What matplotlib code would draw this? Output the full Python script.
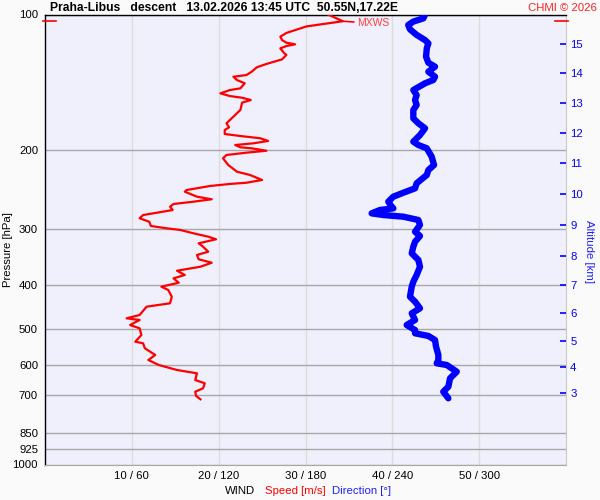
import numpy as np
import matplotlib
matplotlib.use('Agg')
import matplotlib.pyplot as plt
import matplotlib.ticker as ticker

plt.rcParams['font.family'] = ['Liberation Sans', 'DejaVu Sans']

# wind speed [m/s] vs pressure [hPa]
spd_p = [100.0, 103.5, 106.3, 109.9, 112.0, 114.0, 115.5, 116.5, 117.5, 118.9,
         121.6, 123.0, 125.8, 128.8, 131.0, 134.0, 136.3, 137.5, 139.8, 142.2,
         145.9, 147.2, 149.7, 151.8, 153.1, 154.9, 157.0, 163.0, 170.1, 174.5,
         178.1, 180.6, 184.3, 186.2, 188.4, 191.0, 193.3, 195.0, 197.3, 198.3,
         200.8, 202.8, 205.2, 208.7, 216.0, 223.5, 227.3, 233.2, 236.5, 238.0,
         240.5, 245.5, 247.6, 254.0, 257.4, 260.6, 263.7, 267.4, 271.9, 275.7,
         279.0, 283.7, 288.7, 295.1, 298.6, 301.2, 306.4, 311.7, 315.9, 322.4,
         328.1, 336.6, 342.3, 349.9, 356.1, 363.5, 371.0, 379.2, 385.7, 394.5,
         402.6, 409.5, 423.8, 438.3, 446.0, 465.3, 473.3, 477.4, 489.8, 498.1,
         515.5, 533.5, 537.9, 551.8, 571.0, 585.8, 601.0, 616.6, 627.1, 649.0,
         660.0, 677.1, 689.0, 704.3, 716.3]
spd = [32.6, 34.3, 30.1, 27.8, 27.1, 27.3, 27.8, 28.8, 27.8, 27.1,
       27.5, 27.8, 27.3, 25.5, 24.4, 23.8, 23.2, 21.7, 22.1, 23.0,
       22.5, 21.3, 20.2, 21.3, 22.7, 23.7, 22.7, 22.5, 21.5, 20.9,
       21.2, 20.7, 20.7, 22.5, 24.8, 25.7, 24.0, 21.9, 22.5, 23.8,
       25.5, 23.2, 20.9, 20.5, 21.1, 22.1, 23.6, 25.0, 23.2, 21.3,
       19.0, 16.3, 16.1, 17.5, 19.2, 17.1, 14.8, 14.4, 14.7, 12.9,
       11.3, 10.9, 12.0, 12.2, 14.0, 15.6, 17.1, 18.8, 19.7, 17.7,
       18.2, 18.8, 17.5, 17.7, 19.2, 17.9, 15.2, 16.1, 14.8, 15.4,
       13.4, 14.2, 14.6, 14.4, 11.7, 10.9, 9.4, 10.9, 9.8, 10.9,
       11.1, 10.4, 11.3, 11.5, 12.7, 11.9, 13.1, 15.2, 17.5, 17.3,
       18.4, 18.2, 17.3, 17.4, 17.9]

# wind direction [deg] vs pressure [hPa]
dir_p = [100.0, 102.0, 103.7, 105.5, 107.9, 111.0, 114.0, 115.9, 118.9, 124.1,
         128.0, 130.6, 134.0, 137.5, 139.8, 142.2, 147.2, 151.0, 154.9, 158.9,
         163.0, 170.1, 174.5, 179.0, 185.3, 191.7, 195.0, 198.3, 207.0, 216.0,
         221.6, 227.3, 237.2, 243.4, 248.9, 254.0, 260.6, 267.4, 269.6, 271.9,
         276.6, 279.0, 281.4, 286.2, 293.6, 303.9, 310.6, 319.8, 328.1, 339.4,
         351.2, 363.5, 379.2, 392.5, 402.6, 423.8, 434.7, 449.7, 461.3, 477.4,
         489.8, 502.5, 511.0, 518.1, 528.9, 547.3, 571.0, 585.8, 595.8, 601.0,
         622.0, 643.3, 671.7, 689.0, 712.7]
wdir = [262.6, 261.4, 254.5, 251.0, 252.2, 256.8, 262.6, 264.9, 263.8, 263.3,
        264.9, 269.5, 264.9, 269.5, 268.3, 262.6, 254.5, 256.8, 255.7, 256.8,
        254.5, 254.5, 258.0, 262.6, 259.1, 254.5, 258.0, 263.8, 267.2, 268.8,
        264.9, 263.8, 256.8, 255.7, 247.6, 240.7, 237.2, 239.6, 240.7, 231.5,
        225.7, 233.8, 247.6, 258.0, 259.1, 255.7, 259.1, 255.7, 254.5, 253.4,
        258.0, 259.1, 256.8, 254.5, 253.4, 252.2, 255.7, 259.1, 253.4, 255.7,
        249.9, 255.7, 255.7, 264.9, 269.5, 270.2, 271.8, 271.8, 270.7, 277.6,
        284.5, 279.9, 278.7, 275.2, 278.7]

p_levels = [100, 200, 300, 400, 500, 600, 700, 850, 925, 1000]
alt_km = [3, 4, 5, 6, 7, 8, 9, 10, 11, 12, 13, 14, 15]
alt_p = [693, 607, 532, 461, 399, 344, 294, 250, 214, 183, 157, 135, 116]
spd_ticks = [10, 20, 30, 40, 50]
dir_ticks = [60, 120, 180, 240, 300]

title = 'Praha-Libus   descent   13.02.2026 13:45 UTC  50.55N,17.22E'
FS = 8.2

fig = plt.figure(figsize=(6, 5), dpi=100, facecolor='#fafafa')
ax = fig.add_axes([45 / 600, 1 - 464.5 / 500, 521 / 600, 450 / 500])
ax.set_facecolor('#f0f0fc')

ax.set_yscale('log')
ax.set_ylim(1000, 100)
ax.set_xlim(0, 60)
ax.yaxis.set_minor_locator(ticker.NullLocator())
ax.set_yticks(p_levels)
ax.set_yticklabels([str(p) for p in p_levels])
ax.set_xticks(spd_ticks)
ax.set_xticklabels([f'{s} / {d}' for s, d in zip(spd_ticks, dir_ticks)])
ax.tick_params(length=0, labelsize=FS, pad=5)
ax.grid(axis='y', color='#a8a8a8', lw=1)
ax.grid(axis='x', color='#dcdcdc', lw=1)
ax.set_axisbelow(True)
for side in ['left', 'top']:
    ax.spines[side].set_color('black')
    ax.spines[side].set_linewidth(1)
ax.spines['right'].set_color('#c8c8c8')
ax.spines['bottom'].set_color('#a8a8a8')

# speed
ax.plot(spd, spd_p, color='#ff0000', lw=1.6, zorder=3)

# max wind marker
imax = int(np.argmax(spd))
p_mx = spd_p[imax]
yt = ax.get_yaxis_transform()
ax.plot([-0.004, 0.021], [p_mx, p_mx], color='red', lw=1.2,
        transform=yt, clip_on=False, zorder=5)
ax.plot([0.979, 1.004], [p_mx, p_mx], color='red', lw=1.2,
        transform=yt, clip_on=False, zorder=5)
ax.annotate('MXWS', xy=(spd[imax], p_mx), xytext=(10, -1.5),
            textcoords='offset points', ha='left', va='center',
            fontsize=7.5, color='#ff4040',
            arrowprops=dict(arrowstyle='-', color='red', lw=1.2,
                            shrinkA=0, shrinkB=0))

# direction on its own 0-360 scale
axd = ax.twiny()
axd.set_xlim(0, 360)
axd.plot(wdir, dir_p, color='#0000ff', lw=4.6, solid_capstyle='round',
         solid_joinstyle='round', zorder=3)
axd.set_xticks([])
for s in axd.spines.values():
    s.set_visible(False)

# altitude axis
axa = ax.twinx()
axa.set_yscale('log')
axa.set_ylim(1000, 100)
axa.yaxis.set_minor_locator(ticker.NullLocator())
axa.set_yticks(alt_p)
axa.set_yticklabels([str(a) for a in alt_km])
axa.tick_params(axis='y', direction='in', length=4.5, width=1.2,
                color='#0000ff', labelcolor='#0000ff', labelsize=FS, pad=3)
for s in axa.spines.values():
    s.set_visible(False)

fig.text(50 / 600, 1 - 8 / 500, title, fontsize=8.7, fontweight='bold',
         ha='left', va='center')
fig.text(597 / 600, 1 - 8 / 500, 'CHMI © 2026', fontsize=FS, color='#ff2020',
         ha='right', va='center')
fig.text(8 / 600, 1 - 250 / 500, 'Pressure [hPa]', fontsize=FS,
         rotation=90, ha='center', va='center')
fig.text(589 / 600, 1 - 252 / 500, 'Altitude [km]', fontsize=FS,
         color='#2020ff', rotation=270, ha='center', va='center')
fig.text(225 / 600, 1 - 491 / 500, 'WIND', fontsize=FS, ha='left', va='center')
fig.text(265 / 600, 1 - 491 / 500, 'Speed [m/s]', fontsize=FS, color='#ff0000',
         ha='left', va='center')
fig.text(332 / 600, 1 - 491 / 500, 'Direction [°]', fontsize=FS,
         color='#2020ff', ha='left', va='center')

fig.savefig('out.png', dpi=100, facecolor=fig.get_facecolor())
